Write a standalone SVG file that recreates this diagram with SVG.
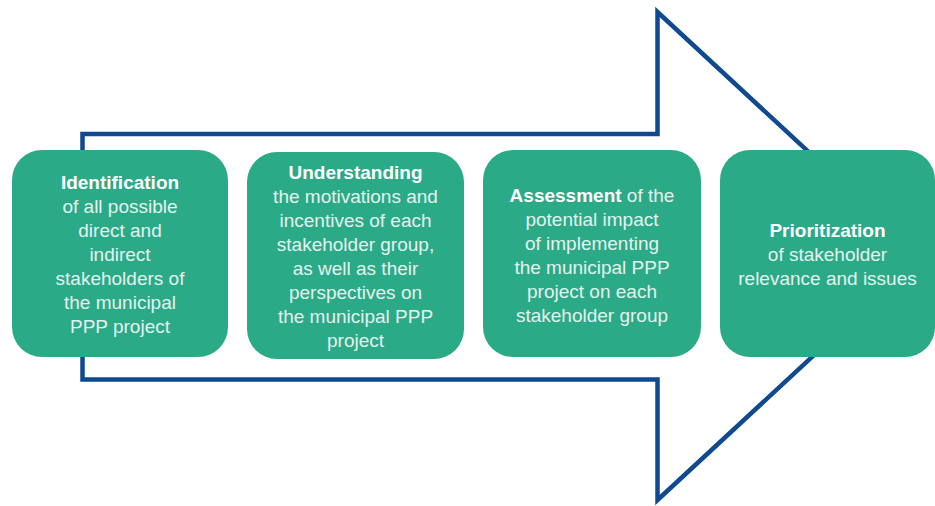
<svg xmlns="http://www.w3.org/2000/svg" width="935" height="506" viewBox="0 0 935 506">
<style>
.box{fill:#2BAA88;}
.t{font-family:"Liberation Sans",Arial,sans-serif;font-size:19px;fill:#E3F3EE;text-anchor:middle;}
.b{font-weight:bold;fill:#FFFFFF;}
.arrow{fill:none;stroke:#0F4A91;stroke-width:4.5;stroke-linejoin:miter;}
</style>
<rect width="935" height="506" fill="#FFFFFF"/>
<g id="connectors">
<path class="arrow" d="M82.5,134 L657.5,134 L657.5,12 L921,256 L657.5,500 L657.5,379.5 L82.5,379.5 Z"/>
</g>
<g id="node1">
<rect class="box" x="12" y="150" width="216" height="207" rx="30"/>
<text class="t" x="120" y="189"><tspan class="b">Identification</tspan><tspan x="120" dy="24">of all possible</tspan><tspan x="120" dy="24">direct and</tspan><tspan x="120" dy="24">indirect</tspan><tspan x="120" dy="24">stakeholders of</tspan><tspan x="120" dy="24">the municipal</tspan><tspan x="120" dy="24">PPP project</tspan></text>
</g>
<g id="node2">
<rect class="box" x="247" y="152" width="217" height="207" rx="30"/>
<text class="t" x="355.5" y="179"><tspan class="b">Understanding</tspan><tspan x="355.5" dy="24">the motivations and</tspan><tspan x="355.5" dy="24">incentives of each</tspan><tspan x="355.5" dy="24">stakeholder group,</tspan><tspan x="355.5" dy="24">as well as their</tspan><tspan x="355.5" dy="24">perspectives on</tspan><tspan x="355.5" dy="24">the municipal PPP</tspan><tspan x="355.5" dy="24">project</tspan></text>
</g>
<g id="node3">
<rect class="box" x="483" y="150" width="218" height="207" rx="30"/>
<text class="t" x="592" y="202"><tspan class="b">Assessment</tspan> of the<tspan x="592" dy="24">potential impact</tspan><tspan x="592" dy="24">of implementing</tspan><tspan x="592" dy="24">the municipal PPP</tspan><tspan x="592" dy="24">project on each</tspan><tspan x="592" dy="24">stakeholder group</tspan></text>
</g>
<g id="node4">
<rect class="box" x="720" y="150" width="215" height="207" rx="30"/>
<text class="t" x="827.5" y="237"><tspan class="b">Prioritization</tspan><tspan x="827.5" dy="24">of stakeholder</tspan><tspan x="827.5" dy="24">relevance and issues</tspan></text>
</g>
</svg>
